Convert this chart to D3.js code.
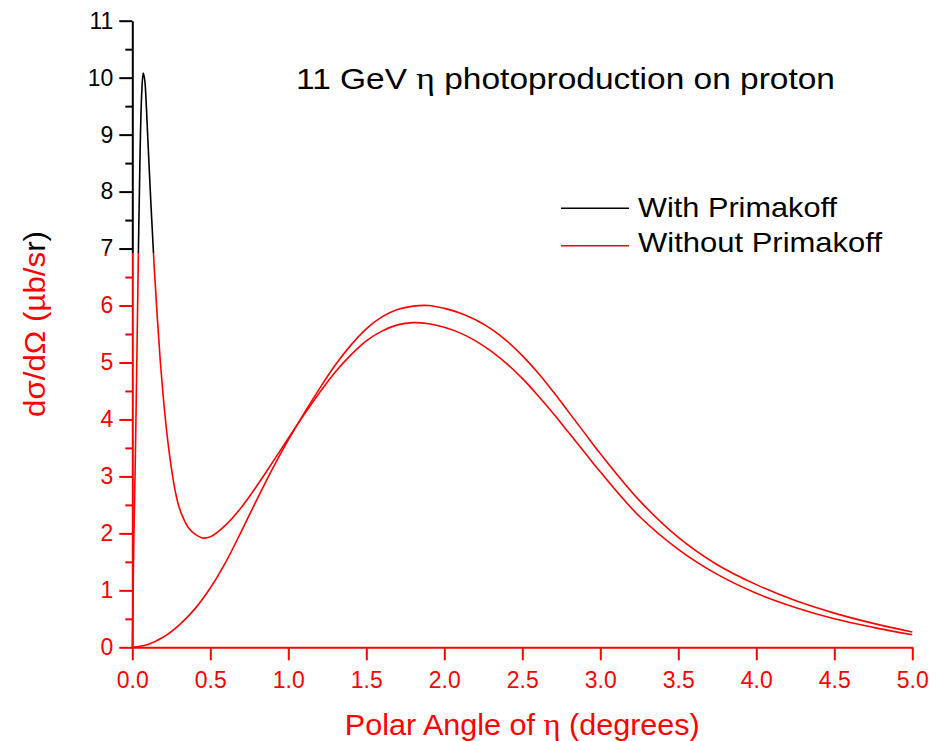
<!DOCTYPE html>
<html>
<head>
<meta charset="utf-8">
<script src="https://cdn.jsdelivr.net/npm/d3@7"></script>
<style>
  body { margin: 0; background: #fff; }
  svg { display: block; }
  text { font-family: "Liberation Sans", Arial, Helvetica, sans-serif; }
</style>
</head>
<body>
<svg id="chart" width="944" height="741"></svg>
<script>
// Polar angle of the eta (degrees) and cross sections (µb/sr)
const anglesWith = [0, 0.01, 0.02, 0.03, 0.04, 0.05, 0.06, 0.07, 0.08, 0.09, 0.10,
  0.12, 0.14, 0.16, 0.18, 0.20, 0.22, 0.24, 0.26, 0.28, 0.30, 0.33, 0.36, 0.40, 0.45, 0.50,
  0.6, 0.7, 0.8, 0.9, 1.0, 1.1, 1.2, 1.3, 1.4, 1.5, 1.6, 1.7, 1.8, 1.9, 2.0, 2.1, 2.2, 2.3, 2.4,
  2.5, 2.6, 2.7, 2.8, 2.9, 3.0, 3.25, 3.5, 3.75, 4.0, 4.25, 4.5, 4.75, 5.0];
const withPrimakoff = [0, 1.9, 3.4, 5.2, 7.1, 8.7, 9.7, 10.08, 9.95, 9.5, 8.9,
  7.75, 6.7, 5.8, 5.0, 4.35, 3.8, 3.35, 2.98, 2.68, 2.46, 2.25, 2.1, 1.99, 1.92, 1.94,
  2.15, 2.46, 2.84, 3.25, 3.67, 4.08, 4.47, 4.83, 5.13, 5.38, 5.55, 5.66, 5.70, 5.68, 5.62, 5.52, 5.38, 5.2, 4.98,
  4.72, 4.42, 4.1, 3.76, 3.42, 3.08, 2.3, 1.72, 1.28, 0.95, 0.7, 0.5, 0.35, 0.22];

const anglesWithout = [0, 0.1, 0.2, 0.3, 0.4, 0.5, 0.6, 0.7, 0.8, 0.9, 1.0, 1.1, 1.2, 1.3, 1.4, 1.5,
  1.6, 1.7, 1.8, 1.9, 2.0, 2.1, 2.2, 2.3, 2.4, 2.5, 2.6, 2.7, 2.8, 2.9, 3.0, 3.25, 3.5, 3.75, 4.0,
  4.25, 4.5, 4.75, 5.0];
const withoutPrimakoff = [0, 0.05, 0.18, 0.39, 0.67, 1.04, 1.5, 2.04, 2.6, 3.14, 3.64, 4.1, 4.54, 4.95, 5.3, 5.59,
  5.8, 5.93, 5.99, 6.0, 5.95, 5.87, 5.75, 5.59, 5.38, 5.12, 4.82, 4.48, 4.12, 3.76, 3.4, 2.58, 1.93, 1.45, 1.1,
  0.82, 0.6, 0.42, 0.27];

const xTicks = [0, 0.5, 1, 1.5, 2, 2.5, 3, 3.5, 4, 4.5, 5];
const xTickLabels = ["0.0", "0.5", "1.0", "1.5", "2.0", "2.5", "3.0", "3.5", "4.0", "4.5", "5.0"];
const yTicks = [0, 1, 2, 3, 4, 5, 6, 7, 8, 9, 10, 11];
const yTickLabels = ["0", "1", "2", "3", "4", "5", "6", "7", "8", "9", "10", "11"];
const yMinorTicks = [0.5, 1.5, 2.5, 3.5, 4.5, 5.5, 6.5, 7.5, 8.5, 9.5, 10.5];

const seriesNames = ["With Primakoff", "Without Primakoff"];
const titleParts = ["11 GeV ", "η", " photoproduction on proton"];
const xTitleParts = ["Polar Angle of ", "η", " (degrees)"];
const yTitle = "dσ/dΩ (µb/sr)";

const RED = "#ff0000";
const svg = d3.select("#chart");

const x = d3.scaleLinear().domain([0, 5]).range([132.3, 912.3]);
const y = d3.scaleLinear().domain([0, 11]).range([647.3, 20.7]);

const line = d3.line()
  .x(d => x(d[0]))
  .y(d => y(d[1]))
  .curve(d3.curveCatmullRom.alpha(0.5));

const withData = anglesWith.map((a, i) => [a, withPrimakoff[i]]);
const withoutData = anglesWithout.map((a, i) => [a, withoutPrimakoff[i]]);

// Upper part of the frame is inked black, lower part red
const split = y(7) + 4.4;
const defs = svg.append("defs");
defs.append("clipPath").attr("id", "clip-upper")
  .append("rect").attr("x", 0).attr("y", 0).attr("width", 944).attr("height", split);
defs.append("clipPath").attr("id", "clip-lower")
  .append("rect").attr("x", 0).attr("y", split).attr("width", 944).attr("height", 741 - split);

function styleAxis(a) {
  a.attr("font-family", null).attr("font-size", null);
  a.select(".domain").attr("stroke-width", 2);
  a.selectAll(".tick line").attr("stroke-width", 2);
  a.selectAll(".tick text").attr("font-size", 23);
}

function drawInk(g) {
  // y axis: major ticks with labels, half-unit minor ticks
  g.append("g")
    .attr("transform", `translate(${x(0)},0)`)
    .call(d3.axisLeft(y).tickValues(yTicks).tickSize(13).tickSizeOuter(0).tickPadding(6)
      .tickFormat((d, i) => yTickLabels[i]))
    .call(styleAxis);
  g.append("g")
    .attr("transform", `translate(${x(0)},0)`)
    .call(d3.axisLeft(y).tickValues(yMinorTicks).tickSize(7).tickSizeOuter(0).tickFormat(""))
    .call(a => { a.select(".domain").remove(); a.selectAll(".tick line").attr("stroke-width", 2); });

  // x axis
  g.append("g")
    .attr("transform", `translate(0,${y(0)})`)
    .call(d3.axisBottom(x).tickValues(xTicks).tickSize(13).tickSizeOuter(0)
      .tickFormat((d, i) => xTickLabels[i]))
    .call(styleAxis)
    .call(a => a.selectAll(".tick text").attr("dy", null).attr("y", 40.7));

  // axis titles
  const xt = g.append("text")
    .attr("x", (x(0) + x(5)) / 2).attr("y", 735)
    .attr("text-anchor", "middle").attr("font-size", 30).attr("fill", "currentColor")
    .attr("textLength", 355).attr("lengthAdjust", "spacingAndGlyphs");
  xTitleParts.forEach((p, i) => {
    const t = xt.append("tspan").text(p);
    if (i === 1) t.attr("font-family", "'Liberation Serif', 'Times New Roman', serif").attr("font-size", 32);
  });

  g.append("text")
    .attr("transform", "translate(45,417) rotate(-90)")
    .attr("text-anchor", "start").attr("font-size", 30).attr("fill", "currentColor")
    .attr("textLength", 186).attr("lengthAdjust", "spacingAndGlyphs")
    .text(yTitle);

  // title
  const tt = g.append("text")
    .attr("x", 296).attr("y", 89)
    .attr("font-size", 30).attr("fill", "currentColor")
    .attr("textLength", 539).attr("lengthAdjust", "spacingAndGlyphs");
  titleParts.forEach((p, i) => {
    const t = tt.append("tspan").text(p);
    if (i === 1) t.attr("font-family", "'Liberation Serif', 'Times New Roman', serif").attr("font-size", 32);
  });

  // legend labels
  g.append("text").attr("x", 638).attr("y", 217).attr("font-size", 28)
    .attr("textLength", 199).attr("lengthAdjust", "spacingAndGlyphs")
    .attr("fill", "currentColor").text(seriesNames[0]);
  g.append("text").attr("x", 638).attr("y", 252).attr("font-size", 28)
    .attr("textLength", 244).attr("lengthAdjust", "spacingAndGlyphs")
    .attr("fill", "currentColor").text(seriesNames[1]);

  // legend sample for the first series
  g.append("line")
    .attr("x1", 561).attr("x2", 629).attr("y1", 208.3).attr("y2", 208.3)
    .attr("stroke", "currentColor").attr("stroke-width", 1.6);

  // curve including the Primakoff contribution
  g.append("path")
    .datum(withData)
    .attr("fill", "none")
    .attr("stroke", "currentColor")
    .attr("stroke-width", 1.6)
    .attr("stroke-linejoin", "round")
    .attr("d", line);
}

const upperInk = svg.append("g").attr("clip-path", "url(#clip-upper)").style("color", "#000");
drawInk(upperInk);
const lowerInk = svg.append("g").attr("clip-path", "url(#clip-lower)").style("color", RED);
drawInk(lowerInk);

// curve without the Primakoff contribution, and its legend sample
svg.append("path")
  .datum(withoutData)
  .attr("fill", "none")
  .attr("stroke", RED)
  .attr("stroke-width", 1.6)
  .attr("stroke-linejoin", "round")
  .attr("d", line);

svg.append("line")
  .attr("x1", 561).attr("x2", 629).attr("y1", 245.7).attr("y2", 245.7)
  .attr("stroke", RED).attr("stroke-width", 1.6);
</script>
</body>
</html>
